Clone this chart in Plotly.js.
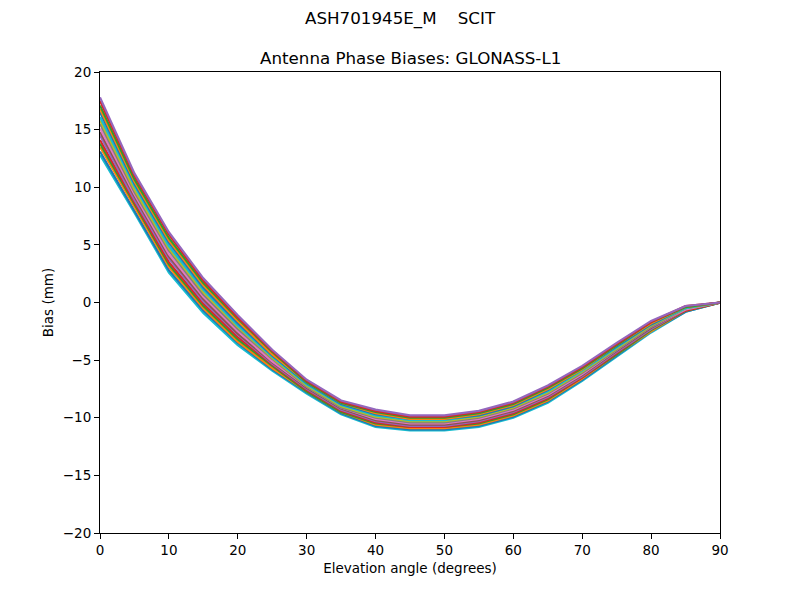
<!DOCTYPE html>
<html>
<head>
<meta charset="utf-8">
<script src="https://cdn.plot.ly/plotly-3.0.1.min.js"></script>
<style>html,body{margin:0;padding:0;background:#fff;}#chart{width:800px;height:600px;}</style>
</head>
<body>
<div id="chart"></div>
<script>
const elevation = [0,5,10,15,20,25,30,35,40,45,50,55,60,65,70,75,80,85,90];

const s0  = [12.8,7.8,2.6,-0.9,-3.7,-5.9,-7.9,-9.7,-10.8,-11.1,-11.1,-10.8,-10.0,-8.7,-6.8,-4.7,-2.6,-0.8,0];
const s1  = [13.1,8.0,2.8,-0.7,-3.5,-5.8,-7.8,-9.6,-10.7,-11.0,-11.0,-10.7,-9.9,-8.6,-6.7,-4.6,-2.5,-0.8,0];
const s2  = [13.5,8.3,3.1,-0.5,-3.4,-5.7,-7.7,-9.5,-10.6,-10.9,-10.9,-10.6,-9.8,-8.5,-6.6,-4.5,-2.5,-0.7,0];
const s3  = [13.8,8.5,3.3,-0.3,-3.2,-5.5,-7.7,-9.5,-10.5,-10.8,-10.8,-10.5,-9.7,-8.4,-6.5,-4.5,-2.4,-0.7,0];
const s4  = [14.1,8.7,3.5,-0.1,-3.0,-5.4,-7.6,-9.4,-10.4,-10.8,-10.8,-10.4,-9.6,-8.3,-6.5,-4.4,-2.3,-0.7,0];
const s5  = [14.5,8.9,3.8,0.1,-2.8,-5.3,-7.5,-9.3,-10.3,-10.7,-10.7,-10.3,-9.5,-8.2,-6.4,-4.3,-2.3,-0.6,0];
const s6  = [14.8,9.2,4.0,0.3,-2.7,-5.2,-7.4,-9.2,-10.2,-10.6,-10.6,-10.2,-9.4,-8.1,-6.3,-4.2,-2.2,-0.6,0];
const s7  = [15.1,9.4,4.2,0.5,-2.5,-5.1,-7.3,-9.1,-10.1,-10.5,-10.5,-10.1,-9.3,-8.0,-6.2,-4.1,-2.1,-0.6,0];
const s8  = [15.5,9.6,4.5,0.7,-2.3,-4.9,-7.3,-9.1,-10.0,-10.4,-10.4,-10.0,-9.2,-7.9,-6.1,-4.1,-2.1,-0.5,0];
const s9  = [15.8,9.8,4.7,0.9,-2.1,-4.8,-7.2,-9.0,-9.9,-10.3,-10.3,-9.9,-9.1,-7.8,-6.0,-4.0,-2.0,-0.5,0];
const s10 = [16.1,10.1,4.9,1.1,-2.0,-4.7,-7.1,-8.9,-9.8,-10.2,-10.2,-9.8,-9.0,-7.7,-5.9,-3.9,-1.9,-0.5,0];
const s11 = [16.5,10.3,5.2,1.3,-1.8,-4.6,-7.0,-8.8,-9.7,-10.1,-10.1,-9.8,-9.0,-7.6,-5.8,-3.8,-1.9,-0.4,0];
const s12 = [16.8,10.5,5.4,1.5,-1.6,-4.5,-6.9,-8.7,-9.6,-10.1,-10.1,-9.7,-8.9,-7.5,-5.8,-3.7,-1.8,-0.4,0];
const s13 = [17.1,10.7,5.6,1.7,-1.4,-4.3,-6.9,-8.7,-9.5,-10.0,-10.0,-9.6,-8.8,-7.4,-5.7,-3.7,-1.7,-0.4,0];
const s14 = [17.5,11.0,5.9,1.9,-1.3,-4.2,-6.8,-8.6,-9.4,-9.9,-9.9,-9.5,-8.7,-7.3,-5.6,-3.6,-1.7,-0.3,0];
const s15 = [17.8,11.2,6.1,2.1,-1.1,-4.1,-6.7,-8.5,-9.3,-9.8,-9.8,-9.4,-8.6,-7.2,-5.5,-3.5,-1.6,-0.3,0];

const seriesList = [s0,s1,s2,s3,s4,s5,s6,s7,s8,s9,s10,s11,s12,s13,s14,s15];
const palette = ['#1f77b4','#ff7f0e','#2ca02c','#d62728','#9467bd','#8c564b','#e377c2','#7f7f7f','#bcbd22','#17becf'];

const traces = seriesList.map((ys, i) => ({
  x: elevation, y: ys, type: 'scatter', mode: 'lines',
  line: {color: palette[(i + 9) % 10], width: 2.2},
  hoverinfo: 'skip', showlegend: false
}));

const font = "DejaVu Sans, sans-serif";
const axisCommon = {
  showgrid: false, zeroline: false, showline: true, mirror: true,
  linecolor: '#000', linewidth: 1, ticks: 'outside', ticklen: 5, tickwidth: 1,
  tickcolor: '#000', tickfont: {family: font, size: 13.5, color: '#000'}
};

const layout = {
  width: 800, height: 600,
  margin: {l: 100, r: 80, t: 72, b: 67},
  paper_bgcolor: '#fff', plot_bgcolor: '#fff',
  font: {family: font, color: '#000'},
  xaxis: Object.assign({}, axisCommon, {
    range: [0, 90], tick0: 0, dtick: 10,
    title: {text: 'Elevation angle (degrees)', font: {family: font, size: 13.5, color: '#000'}, standoff: 6}
  }),
  yaxis: Object.assign({}, axisCommon, {
    range: [-20, 20], tick0: -20, dtick: 5,
    title: {text: 'Bias (mm)', font: {family: font, size: 13.5, color: '#000'}, standoff: 6}
  }),
  annotations: [
    {text: 'ASH701945E_M    SCIT', xref: 'paper', yref: 'paper', x: 0.4839, y: 1.117,
     xanchor: 'center', yanchor: 'middle', showarrow: false, font: {family: font, size: 16.7, color: '#000'}},
    {text: 'Antenna Phase Biases: GLONASS-L1', xref: 'paper', yref: 'paper', x: 0.5, y: 1.030,
     xanchor: 'center', yanchor: 'middle', showarrow: false, font: {family: font, size: 16.7, color: '#000'}}
  ]
};

Plotly.newPlot('chart', traces, layout, {staticPlot: true, displayModeBar: false});
</script>
</body>
</html>
